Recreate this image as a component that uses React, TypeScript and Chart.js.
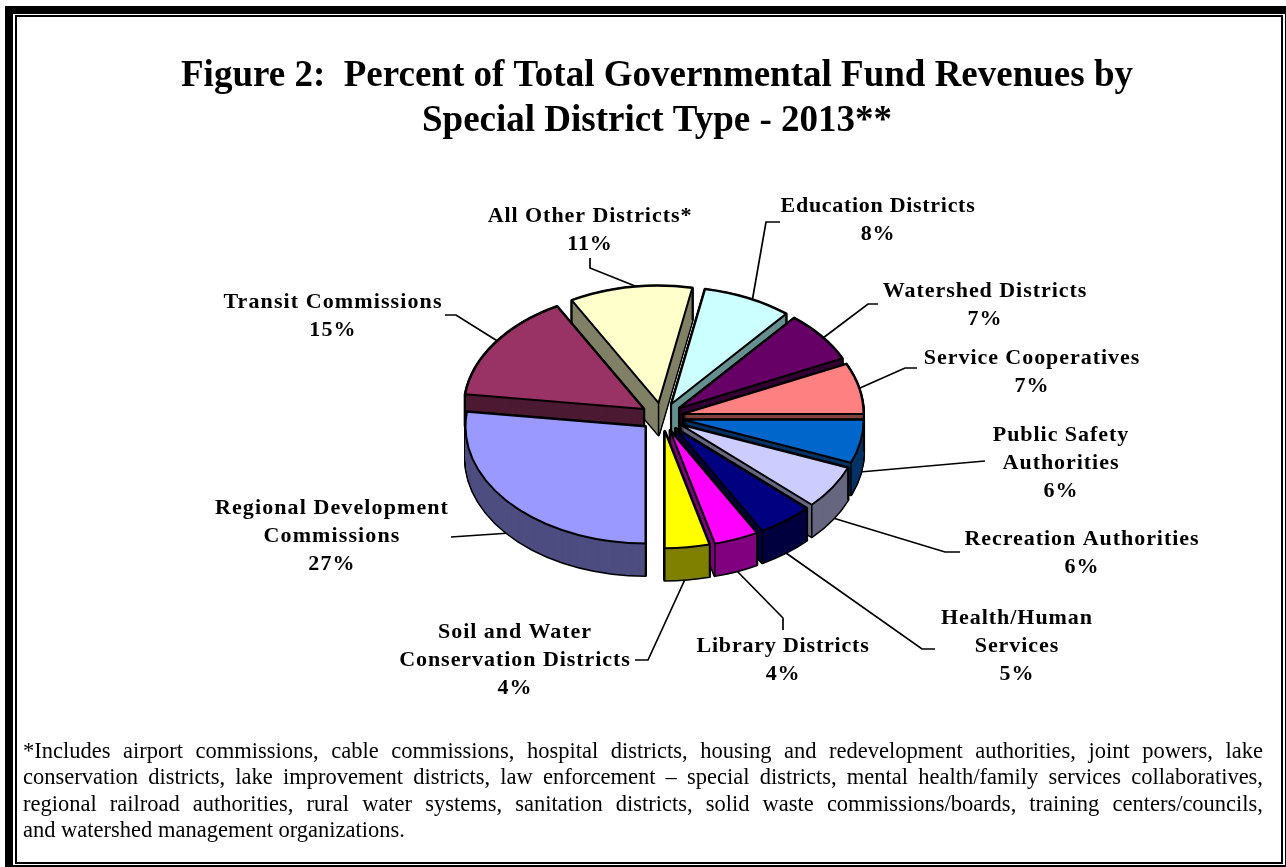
import React, { useEffect, useRef } from "react";
import { Chart, registerables } from "chart.js";

Chart.register(...registerables);

const categories = [
  "Education Districts", "Watershed Districts", "Service Cooperatives", "Public Safety Authorities",
  "Recreation Authorities", "Health/Human Services", "Library Districts",
  "Soil and Water Conservation Districts", "Regional Development Commissions",
  "Transit Commissions", "All Other Districts*",
];
const percents = [8, 7, 7, 6, 6, 5, 4, 4, 27, 15, 11];
const colors = ["#CCFFFF", "#660066", "#FF8080", "#0066CC", "#CCCCFF", "#000080", "#FF00FF", "#FFFF00", "#9999FF", "#993366", "#FFFFCC"];
const sideColors = ["#669090", "#330033", "#804040", "#003366", "#666680", "#000040", "#800080", "#808000", "#4D4D80", "#4D1A33", "#808066"];

const titleLines = ["Figure 2:  Percent of Total Governmental Fund Revenues by", "Special District Type - 2013**"];
const footnoteLines = [
  "*Includes airport commissions, cable commissions, hospital districts, housing and redevelopment authorities, joint powers, lake",
  "conservation districts, lake improvement districts, law enforcement – special districts, mental health/family services collaboratives,",
  "regional railroad authorities, rural water systems, sanitation districts, solid waste commissions/boards, training centers/councils,",
  "and watershed management organizations.",
];

// Label text lines, their centre and first line position, tracking, and the leader polyline
const labelLayout = [
  { lines: ["Education Districts", "8%"], x: 878, y: 206, track: 0.7, leader: [[780, 222], [766, 222], [752, 302]] },
  { lines: ["Watershed Districts", "7%"], x: 985, y: 291, track: 0.95, leader: [[878, 304], [868, 304], [823, 338]] },
  { lines: ["Service Cooperatives", "7%"], x: 1032, y: 358, track: 0.95, leader: [[917, 368], [905, 368], [860, 388]] },
  { lines: ["Public Safety", "Authorities", "6%"], x: 1061, y: 435, track: 0.95, leader: [[985, 461], [860, 472]] },
  { lines: ["Recreation Authorities", "6%"], x: 1082, y: 539, track: 0.95, leader: [[960, 552], [945, 552], [833, 518]] },
  { lines: ["Health/Human", "Services", "5%"], x: 1017, y: 618, track: 0.95, leader: [[935, 649], [922, 649], [786, 553]] },
  { lines: ["Library Districts", "4%"], x: 783, y: 646, track: 0.8, leader: [[783, 630], [783, 618], [735, 569]] },
  { lines: ["Soil and Water", "Conservation Districts", "4%"], x: 515, y: 632, track: 0.95, leader: [[635, 660], [648, 660], [687, 575]] },
  { lines: ["Regional Development", "Commissions", "27%"], x: 332, y: 508, track: 1.1, leader: [[451, 537], [510, 533]] },
  { lines: ["Transit Commissions", "15%"], x: 333, y: 302, track: 1.1, leader: [[445, 315], [456, 315], [499, 342]] },
  { lines: ["All Other Districts*", "11%"], x: 590, y: 216, track: 0.95, leader: [[590, 258], [590, 268], [640, 288]] },
];

const TILT = 0.65;
const DEPTH = 32;
const EXPLODE = 22;

function wedge(ctx: CanvasRenderingContext2D, cx: number, cy: number, r: number, a0: number, a1: number) {
  ctx.beginPath();
  ctx.moveTo(cx, cy);
  ctx.ellipse(cx, cy, r, r * TILT, 0, a0, a1);
  ctx.closePath();
}

const piePlugin = {
  id: "tiltedPie",
  beforeDatasetsDraw(chart: any) {
    const ctx: CanvasRenderingContext2D = chart.ctx;
    ctx.save();

    // Title
    ctx.fillStyle = "#000";
    ctx.textAlign = "center";
    ctx.textBaseline = "middle";
    ctx.font = 'bold 37px "Liberation Serif"';
    titleLines.forEach((t, i) => ctx.fillText(t, 657, 76 + i * 45));

    // Leaders and labels
    ctx.strokeStyle = "#000";
    ctx.lineWidth = 1.7;
    labelLayout.forEach((l) => {
      ctx.beginPath();
      l.leader.forEach((p, i) => (i ? ctx.lineTo(p[0], p[1]) : ctx.moveTo(p[0], p[1])));
      ctx.stroke();
    });
    ctx.font = 'bold 22px "Liberation Serif"';
    labelLayout.forEach((l) => {
      (ctx as any).letterSpacing = l.track + "px";
      l.lines.forEach((t, i) => ctx.fillText(t, l.x, l.y + i * 28));
    });
    (ctx as any).letterSpacing = "0px";

    // Slices, far ones first
    const arcs = chart.getDatasetMeta(0).data.map((el: any, i: number) => {
      const mid = (el.startAngle + el.endAngle) / 2;
      return {
        i,
        a0: el.startAngle,
        a1: el.endAngle,
        r: el.outerRadius,
        mid,
        cx: el.x + Math.cos(mid) * EXPLODE,
        cy: el.y + Math.sin(mid) * EXPLODE * TILT,
      };
    });
    arcs.sort((a: any, b: any) => Math.sin(a.mid) - Math.sin(b.mid));
    ctx.lineJoin = "round";
    arcs.forEach((s: any) => {
      ctx.strokeStyle = "#000";
      ctx.lineWidth = 3;
      for (let d = DEPTH; d >= 0; d -= 1) {
        wedge(ctx, s.cx, s.cy + d, s.r, s.a0, s.a1);
        ctx.stroke();
      }
      ctx.fillStyle = sideColors[s.i];
      for (let d = DEPTH; d >= 0; d -= 1) {
        wedge(ctx, s.cx, s.cy + d, s.r, s.a0, s.a1);
        ctx.fill();
      }
      ctx.lineWidth = 1.5;
      const corners = [
        [s.cx, s.cy],
        [s.cx + Math.cos(s.a0) * s.r, s.cy + Math.sin(s.a0) * s.r * TILT],
        [s.cx + Math.cos(s.a1) * s.r, s.cy + Math.sin(s.a1) * s.r * TILT],
      ];
      corners.forEach((c) => {
        ctx.beginPath();
        ctx.moveTo(c[0], c[1]);
        ctx.lineTo(c[0], c[1] + DEPTH);
        ctx.stroke();
      });
      wedge(ctx, s.cx, s.cy, s.r, s.a0, s.a1);
      ctx.fillStyle = colors[s.i];
      ctx.fill();
      ctx.lineWidth = 2;
      ctx.stroke();
    });
    ctx.restore();
    return false;
  },
};

export default function App() {
  const ref = useRef<HTMLCanvasElement>(null);
  useEffect(() => {
    const chart = new Chart(ref.current as HTMLCanvasElement, {
      type: "pie",
      data: {
        labels: categories,
        datasets: [{ data: percents, backgroundColor: colors, borderWidth: 0, offset: EXPLODE }],
      },
      options: {
        responsive: false,
        animation: false,
        rotation: 10.8,
        layout: { padding: { left: 471, right: 433, top: 226, bottom: 259 } },
        plugins: { legend: { display: false }, title: { display: false }, tooltip: { enabled: false } },
      },
      plugins: [piePlugin],
    } as any);
    return () => chart.destroy();
  }, []);

  const band = (s: React.CSSProperties): React.CSSProperties => ({ position: "absolute", background: "#000", ...s });
  return (
    <div style={{ position: "fixed", left: 0, top: 0, width: 1286, height: 867, overflow: "hidden", background: "#fff" }}>
      <canvas ref={ref} width={1286} height={867} style={{ position: "absolute", left: 0, top: 0, display: "block" }} />
      <div style={band({ left: 5, top: 6, width: 1281, height: 8 })} />
      <div style={band({ left: 5, top: 6, width: 8, height: 861 })} />
      <div style={band({ left: 5, top: 865, width: 1281, height: 2 })} />
      <div style={band({ left: 1285, top: 6, width: 1, height: 861 })} />
      <div style={band({ left: 15, top: 15, width: 1268, height: 2 })} />
      <div style={band({ left: 15, top: 15, width: 2, height: 849 })} />
      <div style={band({ left: 15, top: 862, width: 1268, height: 2 })} />
      <div style={band({ left: 1281, top: 15, width: 2, height: 849 })} />
      <div style={{ position: "absolute", left: 23, top: 738, width: 1240, fontFamily: '"Liberation Serif"', fontSize: 22.5, lineHeight: "26.3px", color: "#000" }}>
        {footnoteLines.map((t, i) => (
          <div key={i} style={{ textAlign: "justify", textAlignLast: i < footnoteLines.length - 1 ? "justify" : "left", whiteSpace: "nowrap" }}>{t}</div>
        ))}
      </div>
    </div>
  );
}
